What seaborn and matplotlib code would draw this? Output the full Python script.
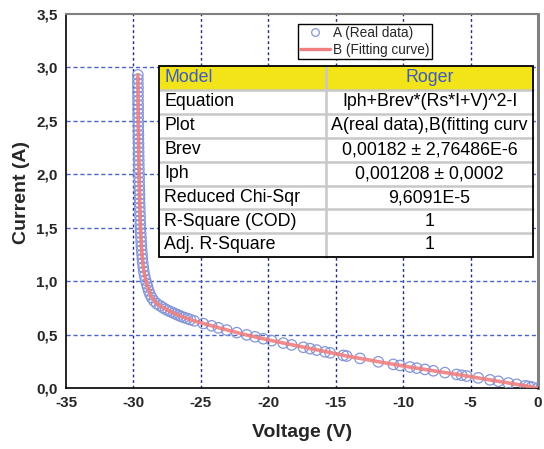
import matplotlib
matplotlib.use("Agg")
import matplotlib.pyplot as plt
import seaborn as sns
import pandas as pd
from matplotlib.patches import Rectangle
from matplotlib.lines import Line2D

# ---------------- data ----------------
real_voltage = [-29.67, -29.67, -29.67, -29.66, -29.66, -29.66, -29.66, -29.65, -29.65, -29.65,
                -29.65, -29.64, -29.64, -29.64, -29.63, -29.63, -29.62, -29.62, -29.61, -29.61,
                -29.60, -29.60, -29.59, -29.59, -29.58, -29.58, -29.57, -29.56, -29.55, -29.55,
                -29.54, -29.53, -29.52, -29.51, -29.50, -29.49, -29.48, -29.46, -29.44, -29.43,
                -29.41, -29.39, -29.36, -29.34, -29.31, -29.27, -29.23, -29.17, -29.10,
                -29.02, -28.95, -28.87, -28.77, -28.64, -28.48, -28.28, -28.03, -27.81, -27.62,
                -27.42, -27.21, -27.00, -26.82, -26.65, -26.47, -26.25, -26.01, -25.78, -25.49,
                -24.82, -24.20, -23.70, -23.08, -22.34, -21.60, -20.98, -20.37, -19.75,
                -18.89, -18.27, -17.40, -16.90, -16.41, -15.79, -15.42, -14.44, -14.19, -13.20,
                -11.84, -10.73, -10.23, -9.49, -8.99, -8.38, -7.76, -6.90, -6.03, -5.66,
                -5.29, -4.43, -3.56, -2.94, -2.20, -1.58, -0.96, -0.72, -0.47, 0.0]
real_current = [2.93, 2.89, 2.85, 2.81, 2.77, 2.73, 2.69, 2.65, 2.61, 2.57,
                2.53, 2.49, 2.45, 2.41, 2.37, 2.33, 2.29, 2.25, 2.21, 2.17,
                2.13, 2.09, 2.05, 2.01, 1.97, 1.93, 1.89, 1.85, 1.81, 1.77,
                1.73, 1.69, 1.65, 1.61, 1.57, 1.53, 1.49, 1.45, 1.41, 1.37,
                1.33, 1.29, 1.25, 1.21, 1.17, 1.13, 1.09, 1.05, 1.01,
                0.975, 0.945, 0.910, 0.875, 0.845, 0.815, 0.790, 0.770, 0.752, 0.737,
                0.724, 0.712, 0.700, 0.690, 0.680, 0.670, 0.660, 0.650, 0.640, 0.628,
                0.603, 0.582, 0.563, 0.542, 0.518, 0.497, 0.479, 0.461, 0.443,
                0.420, 0.403, 0.381, 0.368, 0.355, 0.338, 0.329, 0.305, 0.299, 0.277,
                0.245, 0.221, 0.211, 0.196, 0.186, 0.174, 0.161, 0.144, 0.127, 0.119,
                0.112, 0.095, 0.076, 0.063, 0.047, 0.034, 0.020, 0.015, 0.010, 0.0]

fit_voltage = [-29.67, -29.64, -29.60, -29.55, -29.48, -29.38, -29.23, -29.00, -28.70, -28.30,
               -27.80, -27.20, -26.50, -25.50, -24.00, -22.00, -20.00, -18.00, -16.00, -14.00,
               -12.00, -10.00, -8.00, -6.00, -4.00, -2.00, 0.00]
fit_current = [2.93, 2.49, 2.13, 1.81, 1.49, 1.27, 1.09, 0.97, 0.86, 0.792,
               0.751, 0.712, 0.672, 0.628, 0.575, 0.508, 0.450, 0.398, 0.347, 0.295,
               0.250, 0.206, 0.166, 0.127, 0.085, 0.043, 0.0]

x_ticks = [-35, -30, -25, -20, -15, -10, -5, 0]
x_tick_labels = ["-35", "-30", "-25", "-20", "-15", "-10", "-5", "0"]
y_ticks = [0.0, 0.5, 1.0, 1.5, 2.0, 2.5, 3.0, 3.5]
y_tick_labels = ["0,0", "0,5", "1,0", "1,5", "2,0", "2,5", "3,0", "3,5"]

series_labels = ["A (Real data)", "B (Fitting curve)"]
table_header = ["Model", "Roger"]
table_names = ["Equation", "Plot", "Brev", "Iph", "Reduced Chi-Sqr", "R-Square (COD)", "Adj. R-Square"]
table_values = ["Iph+Brev*(Rs*I+V)^2-I", "A(real data),B(fitting curv", "0,00182 \u00b1 2,76486E-6",
                "0,001208 \u00b1 0,0002", "9,6091E-5", "1", "1"]

# ---------------- style ----------------
sns.set_style("white")
plt.rcParams["font.family"] = ["Liberation Sans", "DejaVu Sans"]
plt.rcParams["axes.unicode_minus"] = False

W, H = 544, 449
fig = plt.figure(figsize=(W / 100, H / 100), dpi=100)
ax = fig.add_axes([66 / W, 1 - 388 / H, 472 / W, 374 / H])

marker_color = "#8595d8"
line_color = "#f07f80"

df_real = pd.DataFrame({"Voltage": real_voltage, "Current": real_current})
df_fit = pd.DataFrame({"Voltage": fit_voltage, "Current": fit_current})

sns.scatterplot(data=df_real, x="Voltage", y="Current", ax=ax, marker="o", s=56,
                facecolor="none", edgecolor=marker_color, linewidth=0.9, zorder=3)
sns.lineplot(data=df_fit, x="Voltage", y="Current", ax=ax, sort=False, estimator=None,
             color=line_color, linewidth=2.6, alpha=0.9, zorder=4)

ax.set_xlim(-35, 0)
ax.set_ylim(0, 3.5)
ax.set_xticks(x_ticks)
ax.set_xticklabels(x_tick_labels)
ax.set_yticks(y_ticks)
ax.set_yticklabels(y_tick_labels)
ax.tick_params(axis="both", length=0, labelsize=11, pad=6)
for lab in ax.get_xticklabels() + ax.get_yticklabels():
    lab.set_fontweight("bold")

# grid
for xv in x_ticks[1:-1]:
    ax.axvline(xv, color="#1f2a80", lw=1.0, ls=(0, (2, 2)), zorder=1)
for yv in y_ticks[1:-1]:
    ax.axhline(yv, color="#4a64c8", lw=1.0, ls=(0, (3, 2)), zorder=1)

# spines
for s in ["left", "bottom"]:
    ax.spines[s].set_color("black")
    ax.spines[s].set_linewidth(1.2)
ax.spines["top"].set_color("#808080")
ax.spines["top"].set_linewidth(1.5)
ax.spines["right"].set_color("#808080")
ax.spines["right"].set_linewidth(2.2)

ax.set_xlabel("Voltage (V)", fontsize=14, fontweight="bold")
ax.set_ylabel("Current (A)", fontsize=14, fontweight="bold")
ax.xaxis.set_label_coords(0.5, -0.097)
ax.yaxis.set_label_coords(-0.077, 0.524)

# legend
handles = [Line2D([], [], marker="o", ls="", mfc="none", mec=marker_color, ms=5.5, mew=0.9),
           Line2D([], [], color=line_color, lw=2.4)]
leg = ax.legend(handles, series_labels, loc="upper right", bbox_to_anchor=(0.775, 0.974),
                borderaxespad=0, fancybox=False, framealpha=1, edgecolor="black",
                fontsize=9.8, handlelength=2.2, handletextpad=0.25, borderpad=0.15,
                labelspacing=0.22)
leg.get_frame().set_linewidth(1.0)
leg.set_zorder(6)

# table (drawn in figure pixel coordinates)
def fx(px):
    return px / W

def fy(py):
    return 1 - py / H

t_left, t_mid, t_right = 158.5, 326, 533
row_edges = [66, 90, 114, 138, 162, 186, 209.5, 233, 257]
fig.add_artist(Rectangle((fx(t_left), fy(row_edges[-1])), fx(t_right) - fx(t_left),
                         fy(row_edges[0]) - fy(row_edges[-1]), transform=fig.transFigure,
                         facecolor="white", edgecolor="none", zorder=7))
fig.add_artist(Rectangle((fx(t_left), fy(row_edges[1])), fx(t_right) - fx(t_left),
                         fy(row_edges[0]) - fy(row_edges[1]), transform=fig.transFigure,
                         facecolor="#f2e419", edgecolor="none", zorder=7.1))
for ye in row_edges[1:-1]:
    fig.add_artist(Line2D([fx(t_left), fx(t_right)], [fy(ye), fy(ye)], transform=fig.transFigure,
                          color="#c8c8c8", lw=1.8, zorder=7.2))
fig.add_artist(Line2D([fx(t_mid), fx(t_mid)], [fy(row_edges[0]), fy(row_edges[-1])],
                      transform=fig.transFigure, color="#c8c8c8", lw=1.8, zorder=7.2))
fig.add_artist(Rectangle((fx(t_left), fy(row_edges[-1])), fx(t_right) - fx(t_left),
                         fy(row_edges[0]) - fy(row_edges[-1]), transform=fig.transFigure,
                         facecolor="none", edgecolor="black", lw=1.3, zorder=7.3))

col1_x = t_left + 6
col2_x = (t_mid + t_right) / 2
fs_table = 12.8
hy = (row_edges[0] + row_edges[1]) / 2
fig.text(fx(col1_x), fy(hy), table_header[0], ha="left", va="center", fontsize=fs_table,
         color="#3d5cbf", zorder=8)
fig.text(fx(col2_x), fy(hy), table_header[1], ha="center", va="center", fontsize=fs_table,
         color="#3d5cbf", zorder=8)
for i, (name, val) in enumerate(zip(table_names, table_values)):
    cy = (row_edges[i + 1] + row_edges[i + 2]) / 2
    fig.text(fx(col1_x), fy(cy), name, ha="left", va="center", fontsize=fs_table,
             color="black", zorder=8)
    fig.text(fx(col2_x), fy(cy), val, ha="center", va="center", fontsize=fs_table,
             color="black", zorder=8)

fig.savefig("out.png", dpi=100)
